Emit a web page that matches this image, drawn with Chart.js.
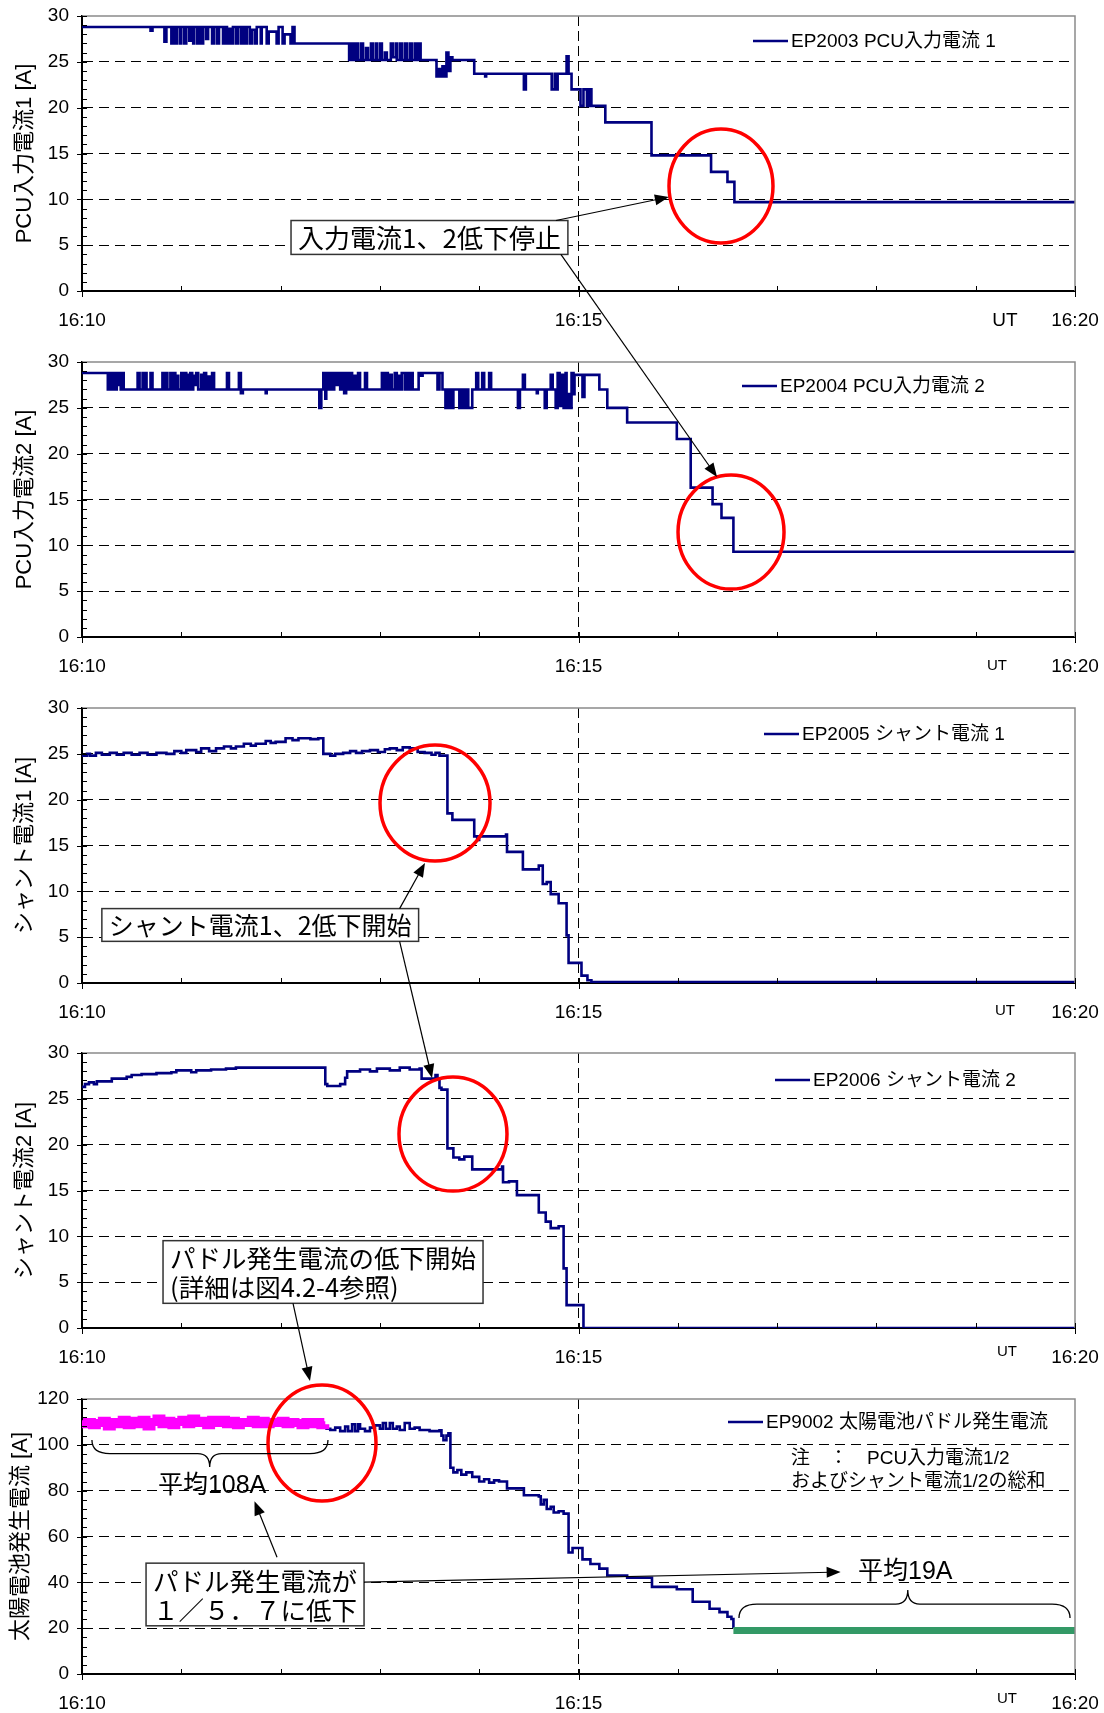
<!DOCTYPE html>
<html lang="ja">
<head>
<meta charset="utf-8">
<title>太陽電池パドル発生電流</title>
<script src="https://cdn.jsdelivr.net/npm/chart.js@4.4.1/dist/chart.umd.min.js"></script>
<style>
html,body{margin:0;padding:0;background:#fff;}
body{position:relative;width:1104px;height:1713px;overflow:hidden;}
canvas{position:absolute;left:0;}
#overlay{top:0;pointer-events:none;}
</style>
</head>
<body>
<canvas id="p1" width="1104" height="331" style="top:0px"></canvas>
<canvas id="p2" width="1104" height="331" style="top:346px"></canvas>
<canvas id="p3" width="1104" height="331" style="top:692px"></canvas>
<canvas id="p4" width="1104" height="331" style="top:1037px"></canvas>
<canvas id="p5" width="1104" height="331" style="top:1383px"></canvas>
<canvas id="overlay" width="1104" height="1713"></canvas>
<script>
// ---------- data (x = minutes after 16:10 UT, y = ampere) ----------
const xTickLabels = {0: '16:10', 5: '16:15', 10: '16:20'};
const yTitles = ['PCU入力電流1 [A]', 'PCU入力電流2 [A]', 'シャント電流1 [A]', 'シャント電流2 [A]', '太陽電池発生電流 [A]'];
const legendLabels = ['EP2003 PCU入力電流 1', 'EP2004 PCU入力電流 2', 'EP2005 シャント電流 1', 'EP2006 シャント電流 2', 'EP9002 太陽電池パドル発生電流'];
const yMaxima = [30, 30, 30, 30, 120];
const yMajorSteps = [5, 5, 5, 5, 20];

const pcuInputCurrent1 = [
[0,28.8],[0.69,28.4],[0.71,28.8],
[0.83,27.2],[0.85,28.8],[0.9,27.0],[0.92,28.8],[0.94,27.0],[0.96,28.8],[0.99,27.0],[1.0,28.8],[1.03,27.0],[1.05,28.8],[1.08,27.3],[1.1,28.8],[1.12,27.0],[1.13,28.8],[1.16,27.0],[1.18,28.8],[1.2,27.0],[1.22,28.8],[1.25,27.5],[1.27,28.8],[1.31,27.0],[1.33,28.8],[1.36,27.0],[1.38,28.8],[1.42,27.0],[1.44,28.8],[1.46,27.0],[1.48,28.6],[1.5,27.0],[1.52,28.8],[1.55,27.0],[1.57,28.8],[1.6,27.0],[1.62,28.8],[1.64,27.0],[1.66,28.8],[1.69,27.0],[1.71,28.5],[1.74,27.0],[1.76,28.8],[1.8,27.0],[1.81,28.8],[1.86,27.0],[1.88,28.3],[1.96,27.0],[1.98,28.8],[2.02,27.0],[2.04,28.0],[2.1,27.0],[2.12,28.8],[2.14,27.0],
[2.69,25.2],[2.71,27.0],[2.72,25.2],[2.74,27.0],[2.75,25.2],[2.77,27.0],[2.78,25.2],[2.81,27.0],[2.83,25.2],[2.86,26.5],[2.88,25.2],[2.91,27.0],[2.93,25.2],[2.96,27.0],[2.97,25.2],[3.0,27.0],[3.02,25.2],[3.05,26.0],[3.07,25.2],[3.11,27.0],[3.13,25.5],[3.16,27.0],[3.17,25.2],[3.2,27.0],[3.22,25.2],[3.25,27.0],[3.27,25.2],[3.3,27.0],[3.32,25.2],[3.35,27.0],[3.37,25.2],[3.39,27.0],[3.41,25.2],
[3.57,23.4],[3.59,24.2],[3.61,23.4],[3.63,24.5],[3.65,23.4],[3.67,26.0],[3.69,24.0],[3.71,25.5],[3.73,25.2],[3.95,23.7],[4.06,23.4],[4.07,23.7],[4.45,22.0],[4.47,23.7],[4.73,22.0],[4.76,23.7],[4.77,22.0],[4.79,23.7],[4.88,25.6],[4.9,23.7],[4.93,22.0],[5.02,20.2],[5.05,22.0],[5.085,20.2],[5.11,22.0],[5.13,20.2],[5.27,18.4],[5.735,14.8],[6.335,13.0],[6.5,11.9],[6.57,9.7],[10,9.7]
];

const pcuInputCurrent2 = [
[0,28.8],[0.26,27.0],[0.28,28.8],[0.29,27.0],[0.31,28.8],[0.33,27.0],[0.35,28.8],[0.36,27.5],[0.38,28.8],[0.39,27.0],[0.41,28.8],[0.42,27.0],
[0.56,28.8],[0.58,27.0],[0.61,28.8],[0.62,27.0],[0.635,28.8],[0.65,27.0],[0.69,28.8],[0.71,27.0],[0.81,28.8],[0.83,27.0],[0.845,28.8],[0.86,27.0],[0.89,28.8],[0.91,27.0],[0.925,28.8],[0.94,27.0],[0.955,28.5],[0.97,27.0],[1.0,28.8],[1.02,27.0],[1.03,28.8],[1.05,27.0],[1.06,28.6],[1.08,27.0],[1.09,28.8],[1.11,27.0],[1.12,28.5],[1.14,27.5],[1.15,28.8],[1.17,27.0],[1.2,28.6],[1.22,27.0],[1.23,28.8],[1.25,27.0],[1.27,28.4],[1.29,27.0],[1.31,28.8],[1.33,27.0],[1.46,28.8],[1.48,27.0],[1.58,28.8],[1.6,26.6],[1.62,27.0],
[1.85,26.6],[1.86,27.0],
[2.39,25.0],[2.41,27.0],[2.43,28.8],[2.45,26.0],[2.46,28.8],[2.48,27.0],[2.5,28.8],[2.52,27.0],[2.54,28.8],[2.56,27.5],[2.58,28.8],[2.6,27.0],[2.62,28.8],[2.64,26.6],[2.66,28.8],[2.68,27.0],[2.7,28.8],[2.72,27.0],[2.74,28.5],[2.76,27.0],[2.78,28.8],[2.8,27.0],
[2.85,28.8],[2.87,27.0],[3.02,28.8],[3.04,27.0],[3.06,28.8],[3.08,27.0],[3.1,28.6],[3.12,27.0],[3.15,28.8],[3.17,27.0],[3.19,28.5],[3.2,27.0],[3.22,28.8],[3.25,27.0],[3.27,28.8],[3.29,27.0],[3.31,28.8],[3.33,27.0],[3.39,28.8],[3.41,28.5],[3.43,28.8],[3.58,27.0],[3.6,28.8],[3.63,27.0],
[3.66,25.0],[3.68,27.0],[3.69,25.0],[3.71,27.0],[3.72,25.0],[3.74,27.0],[3.8,25.0],[3.82,27.0],[3.83,25.0],[3.85,27.0],[3.86,25.0],[3.88,27.0],[3.89,25.0],[3.93,27.0],
[3.97,28.8],[3.99,27.0],[4.03,28.8],[4.05,27.0],[4.1,28.8],[4.12,27.0],
[4.39,25.0],[4.41,27.0],[4.44,28.6],[4.46,27.0],[4.58,26.6],[4.59,27.0],[4.66,25.0],[4.68,27.0],[4.72,28.6],[4.74,27.0],[4.77,25.0],[4.79,28.8],[4.81,25.2],[4.83,28.6],[4.85,25.0],[4.87,28.8],[4.88,25.0],[4.9,26.5],[4.91,25.0],[4.93,28.8],[4.95,26.5],[4.96,28.6],[5.04,26.2],[5.06,28.6],[5.21,27.0],[5.29,25.0],[5.49,23.4],[5.99,21.6],[6.13,16.3],[6.35,14.5],[6.44,13.0],[6.56,9.3],[10,9.3]
];

const shuntCurrent1 = [
[0,24.8],[0.05,25.0],[0.08,24.8],[0.14,25.1],[0.2,24.9],[0.28,25.1],[0.35,24.9],[0.42,25.1],[0.5,24.9],[0.58,25.1],[0.66,24.9],[0.75,25.1],[0.85,25.0],[0.93,25.3],[1.0,25.1],[1.05,25.4],[1.15,25.2],[1.2,25.6],[1.28,25.3],[1.35,25.6],[1.43,25.8],[1.5,25.6],[1.55,25.8],[1.63,26.1],[1.7,25.9],[1.75,26.1],[1.85,26.4],[1.9,26.2],[1.95,26.3],[2.05,26.7],[2.12,26.5],[2.18,26.7],[2.3,26.6],[2.38,26.7],[2.43,25.0],[2.5,24.8],[2.55,25.0],[2.63,25.1],[2.7,25.3],[2.76,25.1],[2.82,25.3],[2.9,25.4],[2.98,25.2],[3.05,25.5],[3.1,25.6],[3.17,25.4],[3.23,25.7],[3.3,25.6],[3.38,25.2],[3.45,25.1],[3.52,24.9],[3.56,25.1],[3.6,24.8],[3.68,18.5],[3.73,17.8],[3.95,16.0],[3.98,15.6],[4.0,16.0],[4.27,16.2],[4.28,14.3],[4.44,12.4],[4.6,12.8],[4.64,10.8],[4.68,11.0],[4.72,9.7],[4.8,8.7],[4.88,5.2],[4.9,2.2],[5.03,0.8],[5.09,0.3],[5.13,0.1],[10,0.1]
];

const shuntCurrent2 = [
[0,26.3],[0.03,26.6],[0.07,26.8],[0.12,26.6],[0.15,26.9],[0.3,27.2],[0.45,27.4],[0.5,27.6],[0.6,27.7],[0.75,27.8],[0.9,27.9],[0.95,28.1],[1.1,27.9],[1.15,28.1],[1.3,28.2],[1.45,28.3],[1.55,28.4],[2.45,26.6],[2.47,26.4],[2.6,26.6],[2.65,27.3],[2.67,28.0],[2.8,28.2],[2.9,28.0],[2.97,28.3],[3.1,28.1],[3.2,28.4],[3.3,28.2],[3.4,28.3],[3.42,27.2],[3.56,27.6],[3.58,27.2],[3.6,26.2],[3.62,26.0],[3.68,19.6],[3.74,18.6],[3.8,18.4],[3.85,18.7],[3.93,17.3],[4.23,17.6],[4.24,15.9],[4.3,16.0],[4.38,14.5],[4.6,12.6],[4.67,11.6],[4.72,10.9],[4.8,11.1],[4.85,6.5],[4.88,2.5],[5.05,0],[10,0]
];

const paddleCurrentEarly = [
[0,109],[0.05,110],[0.1,108.5],[0.15,109.5],[0.2,110.5],[0.25,108],[0.3,110],[0.35,109],[0.4,111],[0.45,108.5],[0.5,110.5],[0.55,109],[0.6,111],[0.65,108],[0.7,110],[0.75,111.5],[0.8,109],[0.85,110.5],[0.9,108.5],[0.95,110],[1.0,111],[1.05,109],[1.1,111.5],[1.15,109.5],[1.2,110.5],[1.25,108.5],[1.3,111],[1.35,109.5],[1.4,111],[1.45,109],[1.5,110.5],[1.55,108.5],[1.6,110],[1.65,109.5],[1.7,111],[1.75,109],[1.8,110.5],[1.85,109],[1.9,110],[1.95,109.5],[2.0,110.5],[2.05,109],[2.1,110],[2.15,109.5],[2.2,108.5],[2.25,110],[2.3,109],[2.35,110],[2.4,108.5],[2.45,109]
];

const paddleCurrent = [
[2.45,107],[2.5,106.5],[2.55,107.5],[2.6,106],[2.65,108],[2.68,106],[2.72,109],[2.75,106],[2.78,109],[2.8,107],[2.85,106],[2.9,107.5],[2.95,108.5],[3.0,107],[3.03,109.5],[3.06,107],[3.1,109.5],[3.13,107],[3.17,108],[3.2,106.5],[3.25,109.5],[3.3,107],[3.35,107.5],[3.4,106.5],[3.5,106],[3.6,106.3],[3.62,104],[3.64,102],[3.67,104],[3.69,105],[3.71,90],[3.74,88],[3.78,89],[3.82,87],[3.87,88],[3.93,86],[4.0,84],[4.05,85],[4.1,83.5],[4.15,84.5],[4.2,84],[4.28,81],[4.4,81],[4.45,78],[4.6,77.5],[4.62,74],[4.65,76],[4.68,72],[4.72,73],[4.75,70.5],[4.8,71],[4.85,70],[4.9,53],[4.94,55],[5.04,50],[5.12,48],[5.21,46],[5.29,43],[5.49,42],[5.74,38],[5.99,37],[6.15,31.5],[6.32,28.5],[6.42,27],[6.5,25],[6.54,24],[6.56,20]
];

const paddleCurrentLate = [[6.56,19],[10,19]];

// ---------- styling ----------
const FONT = '"Liberation Sans", Arial, "Noto Sans CJK JP", sans-serif';
const JFONT = '"Noto Sans CJK JP", "Noto Sans CJK SC", sans-serif';
const NAVY = '#000080';

const panels = [
  {id:'p1', top:0,    idx:0, series:[{data:pcuInputCurrent1, color:NAVY, width:2.6, legend:true}],
   legendOffset:322, legendDy:25, utDx:70, utDy:30, utSize:19, titlePad:12},
  {id:'p2', top:346,  idx:1, series:[{data:pcuInputCurrent2, color:NAVY, width:2.6, legend:true}],
   legendOffset:333, legendDy:24, utDx:78, utDy:29, utSize:15, titlePad:12},
  {id:'p3', top:692,  idx:2, series:[{data:shuntCurrent1, color:NAVY, width:2.6, legend:true}],
   legendOffset:311, legendDy:26, utDx:70, utDy:28, utSize:15, titlePad:12},
  {id:'p4', top:1037, idx:3, series:[{data:shuntCurrent2, color:NAVY, width:2.6, legend:true}],
   legendOffset:300, legendDy:27, utDx:68, utDy:24, utSize:15, titlePad:12},
  {id:'p5', top:1383, idx:4, series:[
     {data:paddleCurrent, color:NAVY, width:2.6, legend:true, order:1},
     {data:paddleCurrentEarly, color:'#ff00ff', width:8, order:0},
     {data:paddleCurrentLate, color:'#339966', width:7, order:0}],
   legendOffset:347, legendDy:23, utDx:68, utDy:25, utSize:15, titlePad:8}
];

const framePlugin = {
  id: 'frame',
  afterDraw(chart, args, o) {
    const {ctx, chartArea: a} = chart;
    const xs = chart.scales.x, ys = chart.scales.y;
    ctx.save();
    ctx.lineWidth = 1.5; ctx.strokeStyle = '#8a8a8a';
    ctx.beginPath(); ctx.moveTo(a.left, a.top); ctx.lineTo(a.right, a.top); ctx.lineTo(a.right, a.bottom); ctx.stroke();
    ctx.lineWidth = 1; ctx.strokeStyle = '#000';
    const minor = o.yMajor / 5;
    const n = Math.round(o.yMax / minor);
    for (let i = 0; i <= n; i++) {
      const py = Math.round(ys.getPixelForValue(i * minor)) + 0.5;
      const major = i % 5 === 0;
      ctx.beginPath(); ctx.moveTo(a.left - (major ? 5 : 0), py); ctx.lineTo(a.left + 5, py); ctx.stroke();
    }
    for (let m = 0; m <= 10; m++) {
      const px = Math.round(xs.getPixelForValue(m)) + 0.5;
      ctx.beginPath(); ctx.moveTo(px, a.bottom - 5); ctx.lineTo(px, a.bottom + (xTickLabels[m] ? 6 : 0)); ctx.stroke();
    }
    const ds = chart.data.datasets.find(d => d.showInLegend);
    const lx = a.right - o.legendOffset, ly = a.top + o.legendDy;
    ctx.strokeStyle = ds.borderColor; ctx.lineWidth = 2.6;
    ctx.beginPath(); ctx.moveTo(lx, ly); ctx.lineTo(lx + 35, ly); ctx.stroke();
    ctx.fillStyle = '#000'; ctx.font = '19px ' + FONT; ctx.textBaseline = 'middle'; ctx.textAlign = 'left';
    ctx.fillText(ds.label, lx + 38, ly + 1);
    ctx.font = o.utSize + 'px ' + FONT; ctx.textAlign = 'center';
    ctx.fillText('UT', a.right - o.utDx, a.bottom + o.utDy);
    ctx.restore();
  }
};

function makeChart(p) {
  const i = p.idx;
  const yMax = yMaxima[i], yMajor = yMajorSteps[i];
  const datasets = p.series.map(s => ({
    label: s.legend ? legendLabels[i] : '',
    showInLegend: !!s.legend,
    data: s.data.map(d => ({x: d[0], y: d[1]})),
    borderColor: s.color, backgroundColor: s.color, borderWidth: s.width,
    stepped: true, pointRadius: 0, fill: false, tension: 0, order: s.order || 0,
    borderCapStyle: 'butt', borderJoinStyle: 'miter'
  }));
  return new Chart(document.getElementById(p.id), {
    type: 'line',
    data: {datasets},
    options: {
      responsive: false, animation: false, devicePixelRatio: 1, parsing: false,
      layout: {padding: {top: 16, right: 29, left: 0, bottom: 0}},
      plugins: {
        legend: {display: false}, tooltip: {enabled: false},
        frame: {yMax, yMajor, legendOffset: p.legendOffset, legendDy: p.legendDy, utDx: p.utDx, utDy: p.utDy, utSize: p.utSize}
      },
      scales: {
        x: {
          type: 'linear', min: 0, max: 10,
          afterFit: s => { s.height = 40; s.paddingLeft = 0; s.paddingRight = 0; },
          ticks: {stepSize: 1, autoSkip: false, maxRotation: 0, minRotation: 0, padding: 18, color: '#000',
                  font: {family: FONT, size: 19}, callback: v => xTickLabels[v] || ''},
          grid: {drawTicks: false, lineWidth: 1, color: c => (c.tick && c.tick.value === 5) ? '#000' : 'rgba(0,0,0,0)'},
          border: {color: '#000', width: 2, dash: [10, 5]}
        },
        y: {
          type: 'linear', min: 0, max: yMax,
          afterFit: s => { s.width = 82; s.paddingTop = 0; s.paddingBottom = 0; },
          ticks: {stepSize: yMajor, padding: 13, color: '#000', font: {family: FONT, size: 19}},
          grid: {drawTicks: false, lineWidth: 1, color: c => (c.tick && (c.tick.value === 0 || c.tick.value === yMax)) ? 'rgba(0,0,0,0)' : '#000'},
          border: {color: '#000', width: 2, dash: [10, 6]},
          title: {display: true, text: yTitles[i], color: '#000', font: {family: FONT, size: 22}, padding: {top: p.titlePad, bottom: 0}}
        }
      }
    },
    plugins: [framePlugin]
  });
}

const charts = panels.map(makeChart);

// ---------- annotations (anchored in data coordinates through each chart's scales) ----------
const ov = document.getElementById('overlay').getContext('2d');
function P(i, t, v) {
  const c = charts[i];
  return {x: c.scales.x.getPixelForValue(t), y: panels[i].top + c.scales.y.getPixelForValue(v)};
}
function ellipse(c, rx, ry) {
  ov.save(); ov.strokeStyle = '#ff0000'; ov.lineWidth = 3.5;
  ov.beginPath(); ov.ellipse(c.x, c.y, rx, ry, 0, 0, Math.PI * 2); ov.stroke(); ov.restore();
}
function arrow(a, b) {
  const ang = Math.atan2(b.y - a.y, b.x - a.x), L = 14, W = 5.5;
  const cs = Math.cos(ang), sn = Math.sin(ang);
  ov.save(); ov.strokeStyle = '#000'; ov.fillStyle = '#000'; ov.lineWidth = 1.2;
  ov.beginPath(); ov.moveTo(a.x, a.y); ov.lineTo(b.x - L * 0.7 * cs, b.y - L * 0.7 * sn); ov.stroke();
  ov.beginPath(); ov.moveTo(b.x, b.y);
  ov.lineTo(b.x - L * cs + W * sn, b.y - L * sn - W * cs);
  ov.lineTo(b.x - L * cs - W * sn, b.y - L * sn + W * cs);
  ov.closePath(); ov.fill(); ov.restore();
}
function box(p, lines, size) {
  ov.save();
  ov.font = size + 'px ' + JFONT;
  const padX = 7, padY = 2, lh = size * 1.15;
  const w = Math.max(...lines.map(l => ov.measureText(l).width)) + 2 * padX;
  const h = lines.length * lh + 2 * padY;
  const r = {x: p.x, y: p.y - h / 2, w, h};
  ov.fillStyle = '#fff'; ov.fillRect(r.x, r.y, w, h);
  ov.strokeStyle = '#333'; ov.lineWidth = 1.5; ov.strokeRect(r.x, r.y, w, h);
  ov.fillStyle = '#000'; ov.textBaseline = 'middle'; ov.textAlign = 'left';
  lines.forEach((l, k) => ov.fillText(l, r.x + padX, r.y + padY + lh * (k + 0.5) + 1));
  ov.restore();
  return r;
}
function brace(l, r, tip) {
  const yEnd = l.y, yMid = (l.y + tip.y) / 2;
  const q = 18, qt = 12;
  ov.save(); ov.strokeStyle = '#000'; ov.lineWidth = 1.3;
  ov.beginPath();
  ov.moveTo(l.x, yEnd);
  ov.quadraticCurveTo(l.x, yMid, l.x + q, yMid);
  ov.lineTo(tip.x - qt, yMid);
  ov.quadraticCurveTo(tip.x, yMid, tip.x, tip.y);
  ov.quadraticCurveTo(tip.x, yMid, tip.x + qt, yMid);
  ov.lineTo(r.x - q, yMid);
  ov.quadraticCurveTo(r.x, yMid, r.x, yEnd);
  ov.stroke(); ov.restore();
}
function label(p, text, size, align, font) {
  ov.save(); ov.font = size + 'px ' + (font || FONT); ov.fillStyle = '#000';
  ov.textBaseline = 'middle'; ov.textAlign = align; ov.fillText(text, p.x, p.y); ov.restore();
}

// Panel 1 / 2: input current stop
ellipse(P(0, 6.435, 11.45), 52, 57);
ellipse(P(1, 6.536, 11.45), 53, 57);
const note1 = box(P(0, 2.105, 5.84), ['入力電流1、2低下停止'], 26);
arrow({x: note1.x + note1.w - 12, y: note1.y}, P(0, 5.91, 10.25));
arrow({x: note1.x + note1.w - 7, y: note1.y + note1.h}, P(1, 6.395, 17.45));

// Panel 3 / 4: shunt current start
ellipse(P(2, 3.555, 19.64), 55, 58);
ellipse(P(3, 3.736, 21.16), 54, 57);
const note2 = box(P(2, 0.2, 6.33), ['シャント電流1、2低下開始'], 25);
arrow({x: note2.x + note2.w - 19, y: note2.y}, P(2, 3.454, 13.1));
arrow({x: note2.x + note2.w - 19, y: note2.y + note2.h}, P(3, 3.525, 27.27));

// Panel 4 / 5: paddle current decrease
const note3 = box(P(3, 0.816, 6.11), ['パドル発生電流の低下開始', '(詳細は図4.2-4参照)'], 25.5);
arrow({x: note3.x + 130, y: note3.y + note3.h}, P(4, 2.296, 127.9));
ellipse(P(4, 2.417, 100.8), 54, 58);

// Panel 5 averages
brace(P(4, 0.1, 102.1), P(4, 2.477, 102.1), P(4, 1.286, 90.3));
label(P(4, 1.31, 82.0), '平均108A', 25, 'center');
const note4 = box(P(4, 0.645, 34.7), ['パドル発生電流が', '１／５．７に低下'], 25.5);
arrow({x: note4.x + 131, y: note4.y - 6}, P(4, 1.737, 75.4));
arrow({x: note4.x + note4.w, y: note4.y + 19}, P(4, 7.64, 44.5));
label(P(4, 7.815, 44.5), '平均19A', 25, 'left');
brace(P(4, 6.616, 24.4), P(4, 9.95, 24.4), P(4, 8.316, 36.65));
label(P(4, 7.14, 93.8), '注　：　PCU入力電流1/2', 19, 'left');
label(P(4, 7.14, 83.8), 'およびシャント電流1/2の総和', 19, 'left');
</script>
</body>
</html>
